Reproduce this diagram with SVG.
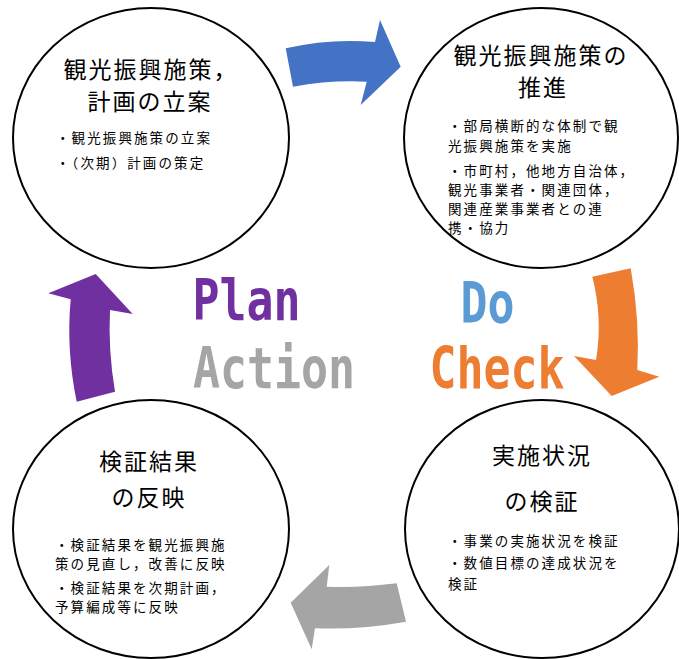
<svg xmlns="http://www.w3.org/2000/svg" width="679" height="659" viewBox="0 0 679 659">
<style>
.c{fill:#fff;stroke:#000;stroke-width:2}
.t{font-family:"Noto Sans CJK JP","Noto Sans",sans-serif;font-size:23px;letter-spacing:2px;fill:#000;text-anchor:middle}
.b{font-family:"Noto Sans CJK JP","Noto Sans",sans-serif;font-size:13.5px;letter-spacing:2.1px;fill:#000}
.p{font-family:"DejaVu Sans Mono",monospace;font-size:57px;font-weight:bold}
</style>
<rect width="679" height="659" fill="#fff"/>
<g id="connectors">
<path d="M285.7,48.3 Q330,38 375,42 L380,20 L400.7,66.7 L360.7,105 L366.7,81.7 Q330,80 293,86.7 Z" fill="#4472C4"/>
<path d="M592.3,276.7 L630.7,268.3 Q640,320 637.3,370 L659.3,376.7 L611.7,396 L574,356 L596,360 Q603,318 592.3,276.7 Z" fill="#ED7D31"/>
<path d="M396.7,583.3 L406,621.7 Q360,630 315,628.3 L311.7,649.3 L290.7,602.7 L329.3,565 L326.7,586.7 Q360,588 396.7,583.3 Z" fill="#A5A5A5"/>
<path d="M76.7,401.7 Q66,350 70.7,299.3 L48.3,293.3 L95.7,274 L132.7,314 L110,310 Q108,350 115,391.7 Z" fill="#7030A0"/>
</g>
<g id="plan">
<ellipse class="c" cx="151" cy="138" rx="138" ry="130"/>
<text class="t" x="151" y="78">観光振興施策，</text>
<text class="t" x="150" y="110">計画の立案</text>
<text class="b" x="56" y="143">・観光振興施策の立案</text>
<text class="b" x="56" y="168">・（次期）計画の策定</text>
</g>
<g id="do">
<ellipse class="c" cx="541" cy="138" rx="137" ry="130"/>
<text class="t" x="541" y="64" letter-spacing="3">観光振興施策の</text>
<text class="t" x="543" y="96" letter-spacing="3">推進</text>
<text class="b" x="448" y="131">・部局横断的な体制で観</text>
<text class="b" x="448" y="151">光振興施策を実施</text>
<text class="b" x="448" y="176">・市町村，他地方自治体，</text>
<text class="b" x="448" y="195">観光事業者・関連団体，</text>
<text class="b" x="448" y="214">関連産業事業者との連</text>
<text class="b" x="448" y="233">携・協力</text>
</g>
<g id="action">
<ellipse class="c" cx="151" cy="529" rx="138" ry="129"/>
<text class="t" x="149" y="470">検証結果</text>
<text class="t" x="149" y="506">の反映</text>
<text class="b" x="55" y="550">・検証結果を観光振興施</text>
<text class="b" x="55" y="569">策の見直し，改善に反映</text>
<text class="b" x="55" y="593">・検証結果を次期計画，</text>
<text class="b" x="55" y="612">予算編成等に反映</text>
</g>
<g id="check">
<ellipse class="c" cx="542" cy="529" rx="137" ry="129"/>
<text class="t" x="542" y="464">実施状況</text>
<text class="t" x="542" y="510">の検証</text>
<text class="b" x="448" y="546">・事業の実施状況を検証</text>
<text class="b" x="448" y="568">・数値目標の達成状況を</text>
<text class="b" x="448" y="589">検証</text>
</g>
<g id="labels">
<text class="p" x="192.5" y="320" fill="#7030A0" textLength="108" lengthAdjust="spacingAndGlyphs">Plan</text>
<text class="p" x="460.5" y="323" fill="#5B9BD5" textLength="54" lengthAdjust="spacingAndGlyphs">Do</text>
<text class="p" x="193" y="388" fill="#A5A5A5" textLength="162" lengthAdjust="spacingAndGlyphs">Action</text>
<text class="p" x="429.5" y="388" fill="#ED7D31" textLength="135" lengthAdjust="spacingAndGlyphs">Check</text>
</g>
</svg>
